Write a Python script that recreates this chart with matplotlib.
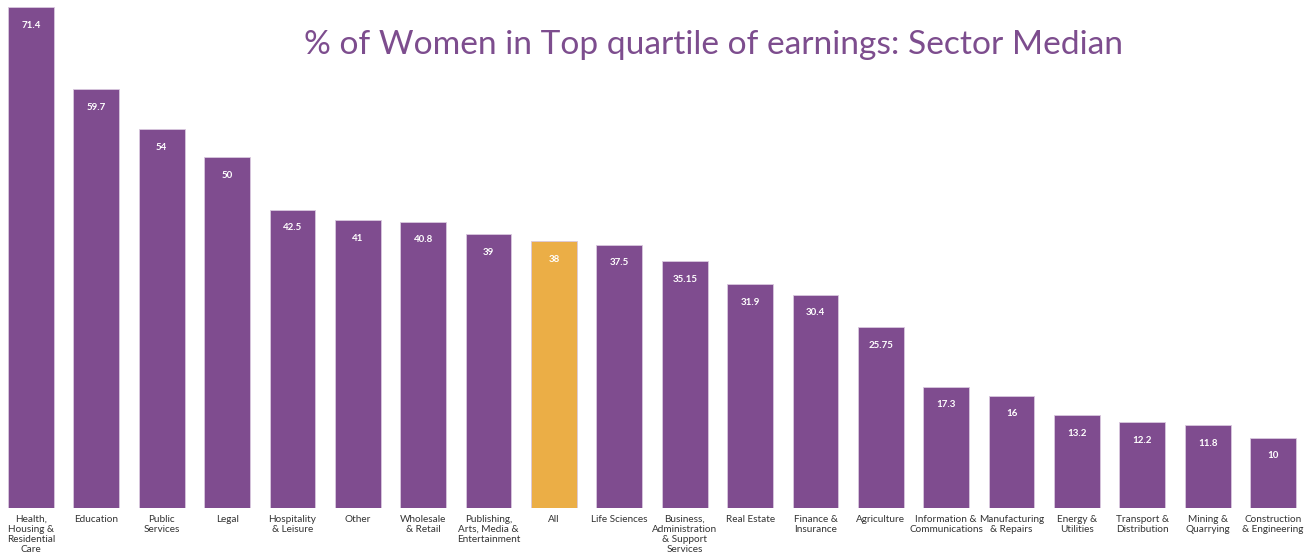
import matplotlib
matplotlib.use("Agg")
import matplotlib.pyplot as plt

categories = ["Health,\nHousing &\nResidential\nCare", "Education", "Public\nServices", "Legal",
              "Hospitality\n& Leisure", "Other", "Wholesale\n& Retail",
              "Publishing,\nArts, Media &\nEntertainment", "All", "Life Sciences",
              "Business,\nAdministration\n& Support\nServices", "Real Estate",
              "Finance &\nInsurance", "Agriculture", "Information &\nCommunications",
              "Manufacturing\n& Repairs", "Energy &\nUtilities", "Transport &\nDistribution",
              "Mining &\nQuarrying", "Construction\n& Engineering"]
values = [71.4, 59.7, 54, 50, 42.5, 41, 40.8, 39, 38, 37.5, 35.15, 31.9, 30.4, 25.75,
          17.3, 16, 13.2, 12.2, 11.8, 10]
value_labels = ["71.4", "59.7", "54", "50", "42.5", "41", "40.8", "39", "38", "37.5", "35.15",
                "31.9", "30.4", "25.75", "17.3", "16", "13.2", "12.2", "11.8", "10"]
highlight = "All"

PURPLE = "#7f4c8f"
ORANGE = "#ebae46"

fig = plt.figure(figsize=(13.09, 5.56), dpi=100)
ax = fig.add_axes([0, 48 / 556, 1, 508 / 556])
x = list(range(len(categories)))
colors = [ORANGE if c == highlight else PURPLE for c in categories]
bars = ax.bar(x, values, width=0.70, color=colors, edgecolor="#d9c8de", linewidth=0.6)
ax.set_xlim(-0.474, 19.55)
ax.set_ylim(0, 72.4)
for s in ax.spines.values():
    s.set_visible(False)
ax.set_yticks([])
ax.set_xticks(x)
ax.set_xticklabels(categories, fontsize=7.2, family="Lato", color="#333333", linespacing=1.15)
ax.tick_params(axis="x", length=0, pad=5)

for b, lab in zip(bars, value_labels):
    ax.annotate(lab, (b.get_x() + b.get_width() / 2, b.get_height()),
                xytext=(0, -18), textcoords="offset pixels", ha="center", va="center",
                fontsize=7, fontweight="bold", color="white", family="Lato")

fig.text(713 / 1309, 1 - 45 / 556, "% of Women in Top quartile of earnings: Sector Median",
         ha="center", va="center", fontsize=24.1, color="#7d4d8e", family="Lato",
         fontweight="normal")

fig.savefig("out.png", dpi=100)
